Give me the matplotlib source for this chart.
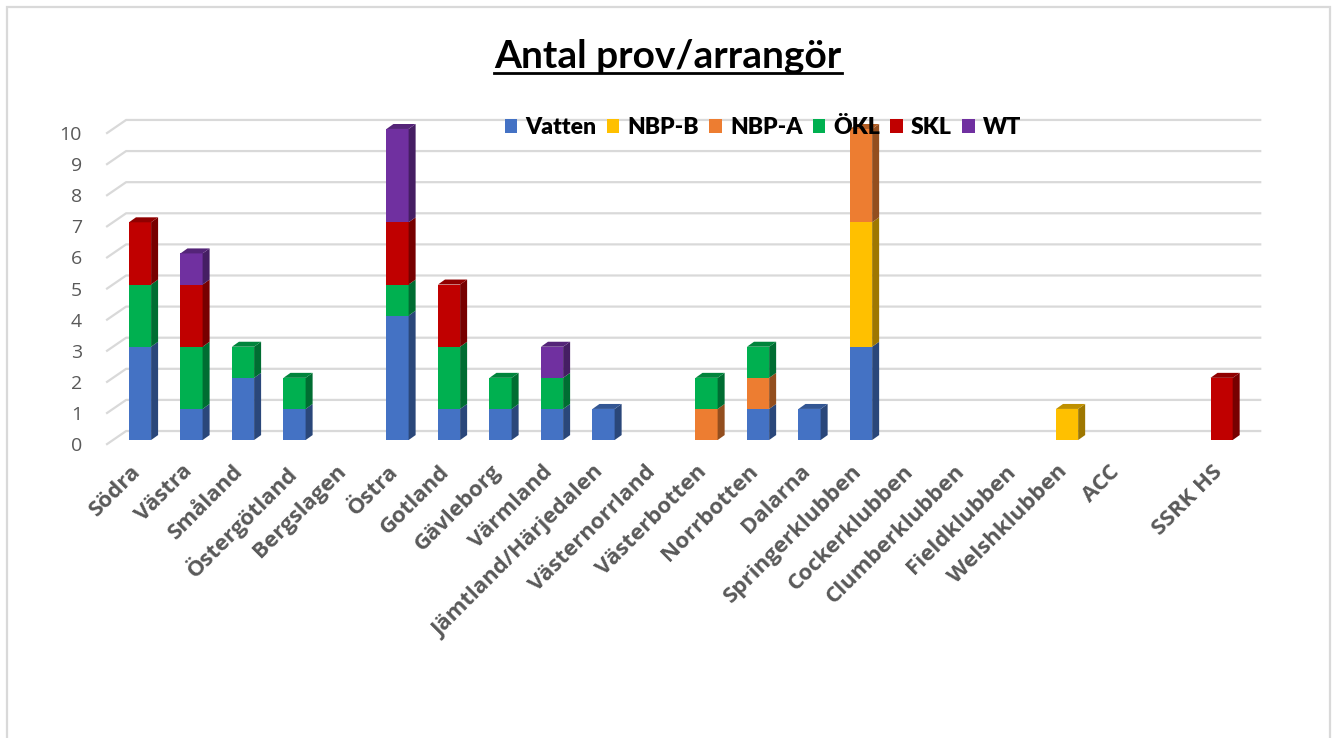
import numpy as np
import matplotlib
matplotlib.use('Agg')
import matplotlib.pyplot as plt
import matplotlib.transforms as mtransforms
from matplotlib.patches import Polygon, Rectangle, Patch
from matplotlib.lines import Line2D
from matplotlib.colors import to_rgb

# ── data ──────────────────────────────────────────────────────
categories = ["Södra", "Västra", "Småland", "Östergötland", "Bergslagen", "Östra",
              "Gotland", "Gävleborg", "Värmland", "Jämtland/Härjedalen", "Västernorrland",
              "Västerbotten", "Norrbotten", "Dalarna", "Springerklubben", "Cockerklubben",
              "Clumberklubben", "Fieldklubben", "Welshklubben", "ACC", "", "SSRK HS"]
series_names = ["Vatten", "NBP-B", "NBP-A", "ÖKL", "SKL", "WT"]
vatten = [3, 1, 2, 1, 0, 4, 1, 1, 1, 1, 0, 0, 1, 1, 3, 0, 0, 0, 0, 0, 0, 0]
nbp_b  = [0, 0, 0, 0, 0, 0, 0, 0, 0, 0, 0, 0, 0, 0, 4, 0, 0, 0, 1, 0, 0, 0]
nbp_a  = [0, 0, 0, 0, 0, 0, 0, 0, 0, 0, 0, 1, 1, 0, 3, 0, 0, 0, 0, 0, 0, 0]
okl    = [2, 2, 1, 1, 0, 1, 2, 1, 1, 0, 0, 1, 1, 0, 0, 0, 0, 0, 0, 0, 0, 0]
skl    = [2, 2, 0, 0, 0, 2, 2, 0, 0, 0, 0, 0, 0, 0, 0, 0, 0, 0, 0, 0, 0, 2]
wt     = [0, 1, 0, 0, 0, 3, 0, 0, 1, 0, 0, 0, 0, 0, 0, 0, 0, 0, 0, 0, 0, 0]
series_vals = [vatten, nbp_b, nbp_a, okl, skl, wt]
colors = ["#4472C4", "#FFC000", "#ED7D31", "#00B050", "#C00000", "#7030A0"]

W, H = 1336, 738
GRID = "#D9D9D9"
TXT = "#595959"
BAR_W = 0.43
DX, DY = 0.136, 0.16          # depth of a bar (3D look)

fig = plt.figure(figsize=(W / 100, H / 100), dpi=100)
ax = fig.add_axes([100 / W, 1 - 450 / H, 1170 / W, 340 / H])
ax.set_xlim(-0.777, 21.94)
ax.set_ylim(-0.32, 10.61)
for s in ax.spines.values():
    s.set_visible(False)

# chart border
fig.add_artist(Rectangle((7 / W, -0.05), (1330 - 7) / W, (H - 7) / H + 0.05,
                         transform=fig.transFigure, fill=False, edgecolor=GRID, lw=1.6))

# ── back wall gridlines ──────────────────────────────────────
for v in range(11):
    ax.plot([-0.64, -0.27, 21.75], [v - 0.13, v + 0.29, v + 0.29],
            color=GRID, lw=1.6, zorder=1, clip_on=False)

# ── stacked bars ─────────────────────────────────────────────
x = np.arange(len(categories))
bottom = np.zeros(len(categories))
top_color = [None] * len(categories)
for vals, c in zip(series_vals, colors):
    vals = np.array(vals, dtype=float)
    bars = ax.bar(x, vals, width=BAR_W, bottom=bottom, color=c, linewidth=0, zorder=3)
    side = np.array(to_rgb(c)) * 0.62
    for b, v in zip(bars, vals):
        if v <= 0:
            continue
        x1 = b.get_x() + b.get_width()
        y0, y1 = b.get_y(), b.get_y() + b.get_height()
        ax.add_patch(Polygon([(x1, y0), (x1 + DX, y0 + DY), (x1 + DX, y1 + DY), (x1, y1)],
                             closed=True, facecolor=side, edgecolor='none', zorder=3))
    for i, v in enumerate(vals):
        if v > 0:
            top_color[i] = c
    bottom += vals

for i, c in enumerate(top_color):
    if c is None:
        continue
    x0, x1, y = x[i] - BAR_W / 2, x[i] + BAR_W / 2, bottom[i]
    ax.add_patch(Polygon([(x0, y), (x1, y), (x1 + DX, y + DY), (x0 + DX, y + DY)],
                         closed=True, facecolor=np.array(to_rgb(c)) * 0.75,
                         edgecolor='none', zorder=3))

# ── axes labels ──────────────────────────────────────────────
ax.set_yticks(range(11))
ax.set_yticklabels([str(v) for v in range(11)], fontsize=14, color=TXT, family="Open Sans")
ax.tick_params(axis='y', length=0, pad=13)
ydrop = mtransforms.ScaledTranslation(0, -4 / 100, fig.dpi_scale_trans)
for lab in ax.get_yticklabels():
    lab.set_transform(lab.get_transform() + ydrop)

ax.set_xticks(x)
ax.set_xticklabels(categories, rotation=45, ha='right', va='top', rotation_mode='anchor',
                   fontsize=16, fontweight='bold', color=TXT, family="Open Sans")
ax.tick_params(axis='x', length=0, pad=8)
xshift = mtransforms.ScaledTranslation(-10 / 100, 0, fig.dpi_scale_trans)
for lab in ax.get_xticklabels():
    lab.set_transform(lab.get_transform() + xshift)

# ── legend ───────────────────────────────────────────────────
handles = [Patch(facecolor=c, edgecolor='none') for c in colors]
leg = fig.legend(handles, series_names, ncol=6, loc='center',
                 bbox_to_anchor=(763 / W, 1 - 128 / H), frameon=False,
                 handlelength=0.55, handleheight=0.55, handletextpad=0.35,
                 columnspacing=0.45, borderpad=0,
                 prop={'family': 'Lato', 'weight': 'heavy', 'size': 16.5})
leg.set_zorder(10)

# ── title (underlined) ───────────────────────────────────────
title = fig.text(0.5, 1 - 68 / H, "Antal prov/arrangör", ha='center', va='baseline',
                 fontsize=28, fontweight='bold', family="Lato", color='black')
fig.canvas.draw()
bb = title.get_window_extent().transformed(fig.transFigure.inverted())
fig.add_artist(Line2D([bb.x0, bb.x1], [1 - 73 / H, 1 - 73 / H], transform=fig.transFigure,
                      color='black', lw=2))

fig.savefig("out.png", dpi=100)
